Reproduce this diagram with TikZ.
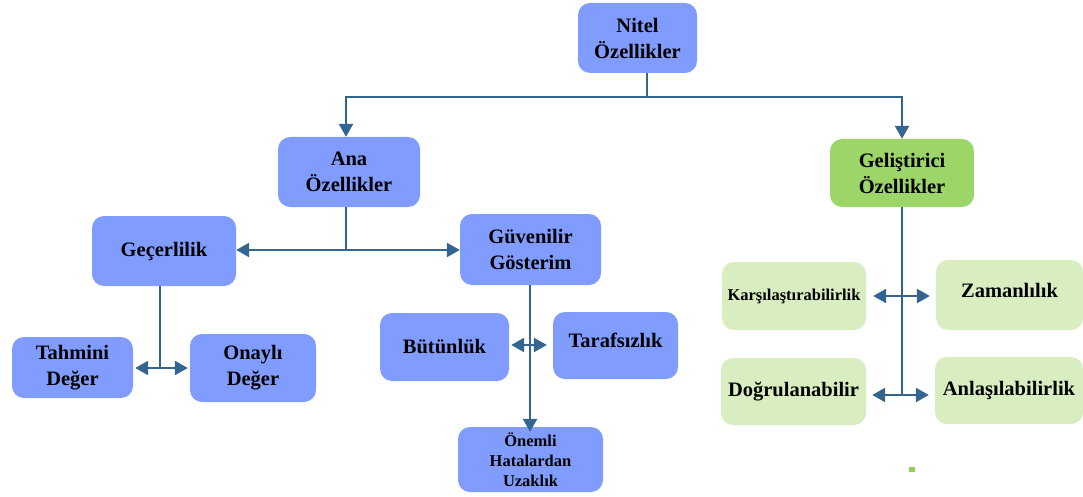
\documentclass[tikz,border=0pt]{standalone}
\usepackage{fontspec}
\setmainfont{Liberation Serif}
\usetikzlibrary{arrows.meta}
\definecolor{boxblue}{RGB}{128,156,254}
\definecolor{boxgreen}{RGB}{156,213,104}
\definecolor{lightgreen}{RGB}{216,238,192}
\definecolor{linkblue}{RGB}{52,101,145}
\definecolor{dotgreen}{RGB}{146,208,80}
\tikzset{
  box/.style={rounded corners=12pt, inner sep=0pt, align=center,
    font=\fontsize{20.5}{26}\selectfont\bfseries, text=black},
  bluebox/.style={box, fill=boxblue},
  greenbox/.style={box, fill=boxgreen},
  palebox/.style={box, fill=lightgreen},
  smalltext/.style={font=\fontsize{16.5}{20}\selectfont\bfseries},
  link/.style={draw=linkblue, line width=2.5pt},
  arr/.style={link, -{Triangle[length=13pt,width=14pt]}},
}
\begin{document}
\begin{tikzpicture}[x=1pt,y=-1pt]
\useasboundingbox (0,0) rectangle (1083,497);

% top level
\node[bluebox, minimum width=119pt, minimum height=70pt] (nitel) at (637.5,38) {Nitel\\Özellikler};

% second level
\node[bluebox, minimum width=142pt, minimum height=70pt] (ana) at (349,172) {Ana\\Özellikler};
\node[greenbox, minimum width=144pt, minimum height=68pt] (gel) at (902,173) {Geliştirici\\Özellikler};

% main qualities
\node[bluebox, minimum width=144pt, minimum height=70pt] (gec) at (164,251) {Geçerlilik};
\node[bluebox, minimum width=141pt, minimum height=71pt] (guv) at (530.5,249.5) {Güvenilir\\Gösterim};

\node[bluebox, minimum width=121pt, minimum height=61pt] (tah) at (72.5,367.5) {Tahmini\\Değer};
\node[bluebox, minimum width=126pt, minimum height=68pt] (ona) at (253,368) {Onaylı\\Değer};

\node[bluebox, minimum width=129pt, minimum height=68pt] (but) at (444.5,347) {Bütünlük};
\node[bluebox, minimum width=125pt, minimum height=67pt, text depth=10pt] (tar) at (615.5,345.5) {Tarafsızlık};
\node[bluebox, smalltext, minimum width=145pt, minimum height=65pt] (onem) at (530.5,459.5) {Önemli\\Hatalardan\\Uzaklık};

% enhancing qualities
\node[palebox, smalltext, minimum width=144pt, minimum height=68pt] (kar) at (794,296) {Karşılaştırabilirlik};
\node[palebox, minimum width=147pt, minimum height=70pt, text depth=10pt] (zam) at (1009.5,295) {Zamanlılık};
\node[palebox, minimum width=145pt, minimum height=67pt] (dog) at (793.5,391.5) {Doğrulanabilir};
\node[palebox, minimum width=148pt, minimum height=67pt] (anl) at (1009,390.5) {Anlaşılabilirlik};

% junction points
\coordinate (j0) at (647,97);
\coordinate (j1) at (346,250);
\coordinate (j2) at (160,368);
\coordinate (j3) at (530,345);
\coordinate (j4) at (902,296);
\coordinate (j5) at (902,395);

% connectors
\draw[link] (nitel.south -| j0) -- (j0);
\draw[arr] (j0) -| (ana.north -| j1);
\draw[arr] (j0) -| (gel.north);

\draw[link] (ana.south -| j1) -- (j1);
\draw[arr] (j1) -- (gec.east |- j1);
\draw[arr] (j1) -- (guv.west |- j1);

\draw[link] (gec.south -| j2) -- (j2);
\draw[arr] (j2) -- ([xshift=2pt]tah.east |- j2);
\draw[arr] (j2) -- ([xshift=-2pt]ona.west |- j2);

\draw[arr] (guv.south -| j3) -- ([yshift=-5pt]onem.north -| j3);
\draw[arr] (j3) -- ([xshift=2pt]but.east |- j3);
\draw[arr] (j3) -- ([xshift=-6pt]tar.west |- j3);

\draw[link] (gel.south) -- (j5);
\draw[arr] (j4) -- ([xshift=7pt]kar.east |- j4);
\draw[arr] (j4) -- ([xshift=-6pt]zam.west |- j4);
\draw[arr] (j5) -- ([xshift=6pt]dog.east |- j5);
\draw[arr] (j5) -- ([xshift=-6pt]anl.west |- j5);

% small mark
\fill[dotgreen] (909,467) rectangle (915,472);
\end{tikzpicture}
\end{document}
